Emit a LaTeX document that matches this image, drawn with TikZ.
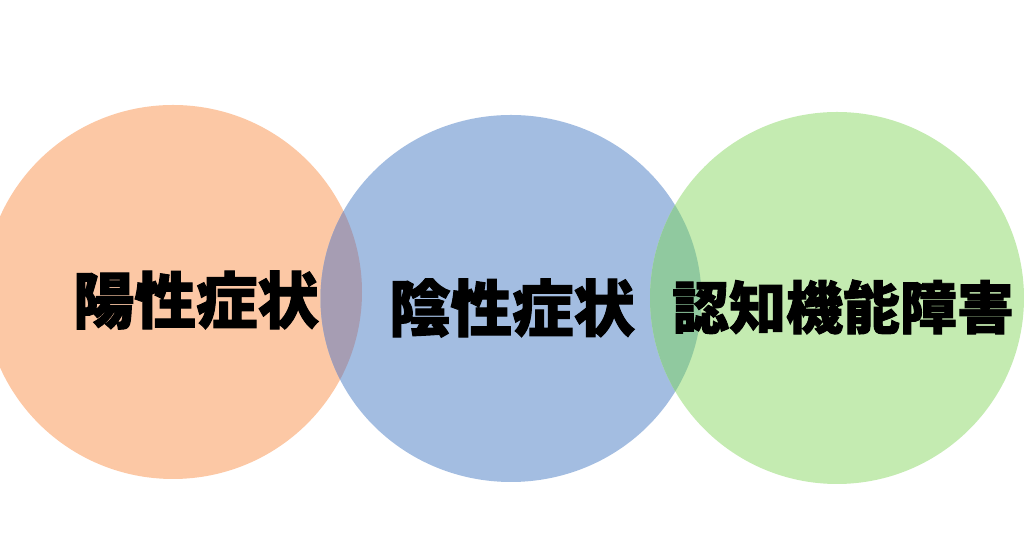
\documentclass[tikz,border=0pt]{standalone}
\usepackage{fontspec}
\newfontfamily\cjk{Noto Sans CJK JP}[BoldFeatures={FakeBold=1.6}]
\definecolor{yocolor}{HTML}{FCC8A5}
\definecolor{incolor}{HTML}{A3BDE1}
\definecolor{nincolor}{HTML}{C4EBB1}
\definecolor{yoincolor}{HTML}{A69DB3}
\definecolor{inninolor}{HTML}{90C99F}
\tikzset{
  symptom/.style={inner sep=0pt, font=\cjk\bfseries\fontsize{35}{35}\selectfont},
  yoshape/.style={x radius=3.78, y radius=3.74},
  inshape/.style={x radius=3.81, y radius=3.67},
  ninshape/.style={x radius=3.74, y radius=3.72}
}
\begin{document}
\begin{tikzpicture}
\useasboundingbox (0,0) rectangle (20.48,10.72);
\clip (0,0) rectangle (20.48,10.72);
\coordinate (yo) at (3.46,4.88);
\coordinate (in) at (10.22,4.75);
\coordinate (nin) at (16.74,4.76);
\fill[yocolor] (yo) ellipse[yoshape];
\fill[incolor] (in) ellipse[inshape];
\fill[nincolor] (nin) ellipse[ninshape];
% overlaps
\begin{scope}
\clip (yo) ellipse[yoshape];
\fill[yoincolor] (in) ellipse[inshape];
\end{scope}
\begin{scope}
\clip (in) ellipse[inshape];
\fill[inninolor] (nin) ellipse[ninshape];
\end{scope}
\node[symptom] (yosei) at (3.92,4.72) {陽性症状};
\node[symptom] (insei) at (10.24,4.56) {陰性症状};
\node[symptom, font=\cjk\bfseries\fontsize{32.4}{32.4}\selectfont] (ninchi) at (16.86,4.58) {認知機能障害};
\end{tikzpicture}
\end{document}
